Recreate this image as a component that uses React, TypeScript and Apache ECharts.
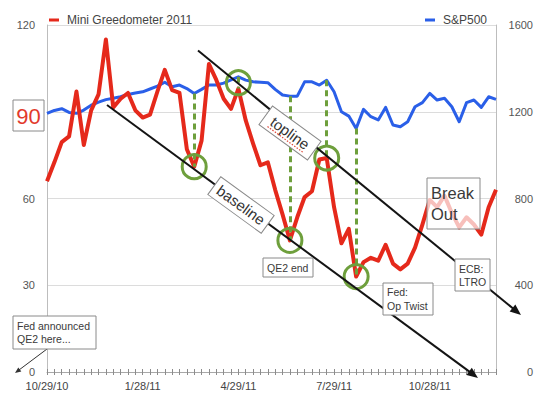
import React, { useEffect, useRef } from "react";
import * as echarts from "echarts";

const weeks = [
  "10/29/10", "11/5/10", "11/12/10", "11/19/10", "11/26/10", "12/3/10", "12/10/10", "12/17/10", "12/24/10", "12/31/10",
  "1/7/11", "1/14/11", "1/21/11", "1/28/11", "2/4/11", "2/11/11", "2/18/11", "2/25/11", "3/4/11", "3/11/11",
  "3/18/11", "3/25/11", "4/1/11", "4/8/11", "4/15/11", "4/22/11", "4/29/11", "5/6/11", "5/13/11", "5/20/11",
  "5/27/11", "6/3/11", "6/10/11", "6/17/11", "6/24/11", "7/1/11", "7/8/11", "7/15/11", "7/22/11", "7/29/11",
  "8/5/11", "8/12/11", "8/19/11", "8/26/11", "9/2/11", "9/9/11", "9/16/11", "9/23/11", "9/30/11", "10/7/11",
  "10/14/11", "10/21/11", "10/28/11", "11/4/11", "11/11/11", "11/18/11", "11/25/11", "12/2/11", "12/9/11", "12/16/11",
  "12/23/11", "12/30/11",
];

const greedometer = [
  66, 72.5, 79.5, 81.5, 97, 78.5, 90.5, 96, 115, 91.5,
  94.5, 96.5, 90.5, 88, 89, 97, 104.5, 97.5, 96.5, 77,
  71, 80, 106.5, 101, 94.5, 91, 98, 87, 79, 71.5,
  72.5, 63, 54.5, 45.5, 53.5, 60.5, 62.5, 73.5, 74, 57,
  44.5, 49.5, 33, 38, 39.5, 38.5, 44, 37.5, 35.5, 37.5,
  43, 51, 59.5, 57, 61, 55, 50, 53.5, 51, 47.5,
  57, 63,
];

const sp500 = [
  1192, 1206, 1214, 1197, 1193, 1208, 1230, 1244, 1256, 1262,
  1269, 1280, 1286, 1292, 1305, 1318, 1336, 1315, 1323, 1307,
  1284, 1303, 1323, 1323, 1332, 1347, 1361, 1346, 1338, 1336,
  1334, 1303, 1277, 1272, 1272, 1338, 1338, 1323, 1345, 1292,
  1200, 1180, 1123, 1211, 1177, 1162, 1220, 1139, 1131, 1154,
  1223, 1242, 1285, 1254, 1262, 1223, 1154, 1242, 1254, 1220,
  1269, 1257,
];

const leftAxis = { min: 0, max: 120, interval: 30 };
const rightAxis = { min: 0, max: 1600, interval: 400 };
const labelEveryWeeks = 13;
// weeks where the green dashed markers connect the S&P500 and the Greedometer
const turningWeeks = [20, 26, 33, 38, 42];
const circleAtMidpoint = [26];

const FONT = "'Liberation Sans', Arial, Helvetica, sans-serif";
const RED = "#e5291b";
const BLUE = "#2a5fe8";
const GREEN = "#6e9f3c";
const INK = "#141414";

function arrowLine(x1: number, y1: number, tx: number, ty: number, len: number, half: number, color: string, width: number, z: number) {
  const dx = tx - x1, dy = ty - y1;
  const d = Math.hypot(dx, dy);
  const ux = dx / d, uy = dy / d;
  const nx = -uy, ny = ux;
  const bx = tx - ux * len, by = ty - uy * len;
  return [
    { type: "line", z, silent: true, shape: { x1, y1, x2: bx + ux * 2, y2: by + uy * 2 }, style: { stroke: color, lineWidth: width } },
    { type: "polygon", z, silent: true, shape: { points: [[tx, ty], [bx + nx * half, by + ny * half], [bx - nx * half, by - ny * half]] }, style: { fill: color } },
  ];
}

function textStyle(text: string, x: number, y: number, size: number, fill: string, align: string, vAlign: string, lineHeight?: number) {
  return {
    text, x, y, fill,
    font: `${size}px ${FONT}`,
    fontSize: size,
    fontFamily: FONT,
    align, verticalAlign: vAlign,
    textAlign: align, textVerticalAlign: vAlign,
    lineHeight: lineHeight || Math.round(size * 1.2),
  };
}

function noteBox(x: number, y: number, w: number, h: number, text: string, size: number, lineHeight: number, fillOpacity = 1, z = 30) {
  return {
    type: "group", x, y, z, silent: true,
    children: [
      { type: "rect", z, shape: { x: 0, y: 0, width: w, height: h }, style: { fill: `rgba(255,255,255,${fillOpacity})`, stroke: "#8a8a8a", lineWidth: 1 } },
      { type: "text", z: z + 1, style: textStyle(text, 4, h / 2, size, "#3a3a3a", "left", "middle", lineHeight) },
    ],
  };
}

function rotatedBox(cx: number, cy: number, w: number, h: number, deg: number, text: string, size: number, extra: any[] = [], z = 30) {
  return {
    type: "group", x: cx, y: cy, rotation: (-deg * Math.PI) / 180, z, silent: true,
    children: [
      { type: "rect", z, shape: { x: -w / 2, y: -h / 2, width: w, height: h }, style: { fill: "#ffffff", stroke: "#8a8a8a", lineWidth: 1 } },
      { type: "text", z: z + 1, style: textStyle(text, 0, 0, size, "#333333", "center", "middle") },
      ...extra,
    ],
  };
}

export default function App() {
  const ref = useRef<HTMLDivElement>(null);

  useEffect(() => {
    if (!ref.current) return;
    const chart = echarts.init(ref.current, undefined, { renderer: "svg" });
    const scale = leftAxis.max / rightAxis.max;

    const dashed = turningWeeks.map((i) => [
      { coord: [weeks[i], sp500[i] * scale] },
      { coord: [weeks[i], greedometer[i]] },
    ]);
    const circles = turningWeeks.map((i) => {
      const v = circleAtMidpoint.includes(i) ? (greedometer[i] + sp500[i] * scale) / 2 : greedometer[i];
      return { coord: [weeks[i], v] };
    });

    const axisText = { fontFamily: FONT, fontSize: 11, color: "#555" };

    const graphic: any[] = [
      // trend channel lines
      ...arrowLine(107, 105, 478, 378, 11, 4.5, INK, 2, 20),
      ...arrowLine(198, 50.5, 521, 315, 11, 4.5, INK, 2, 20),
      // Fed announced arrow
      ...arrowLine(47, 349, 15, 373, 6, 2.5, "#333", 1, 20),
      // boxed 90 label
      {
        type: "group", x: 13, y: 100, z: 30, silent: true,
        children: [
          { type: "rect", z: 30, shape: { x: 0, y: 0, width: 31, height: 31 }, style: { fill: "#fff", stroke: "#8a8a8a", lineWidth: 1 } },
          { type: "text", z: 31, style: textStyle("90", 15.5, 16, 22, "#e23a2c", "center", "middle") },
        ],
      },
      rotatedBox(290, 133, 60, 23, 36, "topline", 15, [
        { type: "line", z: 32, shape: { x1: -22, y1: 8, x2: 22, y2: 8 }, style: { stroke: "#e0473a", lineWidth: 1.2, lineDash: [1.5, 1.5] } },
      ]),
      rotatedBox(241, 205, 66, 22, 36, "baseline", 15),
      noteBox(263, 258, 50, 19, "QE2 end", 10.5, 13),
      noteBox(383, 283, 50, 32, "Fed:\nOp Twist", 10.5, 14),
      noteBox(455, 259, 35, 32, "ECB:\nLTRO", 10.5, 13),
      noteBox(13, 316, 83, 33, "Fed announced\nQE2 here...", 10.5, 13),
      noteBox(427, 178, 53, 51, "Break\nOut", 16.5, 21.5, 0.7),
    ];

    chart.setOption({
      animation: false,
      backgroundColor: "#ffffff",
      textStyle: { fontFamily: FONT },
      grid: { left: 47, right: 44, top: 25, bottom: 25, containLabel: false, outerBoundsMode: "none" },
      legend: [
        {
          data: ["Mini Greedometer 2011"], left: 44, top: 9, icon: "rect", itemWidth: 10, itemHeight: 3,
          textStyle: { fontFamily: FONT, fontSize: 12, color: "#444", padding: [0, 0, 0, 3] }, selectedMode: false,
        },
        {
          data: ["S&P500"], left: 420, top: 9, icon: "rect", itemWidth: 10, itemHeight: 3,
          textStyle: { fontFamily: FONT, fontSize: 12, color: "#444", padding: [0, 0, 0, 3] }, selectedMode: false,
        },
      ],
      xAxis: [
        {
          type: "category", data: weeks, boundaryGap: false,
          axisLine: { lineStyle: { color: "#a8a8a8", width: 1 } },
          axisTick: { interval: 0, length: 3, lineStyle: { color: "#8c8c8c" } },
          axisLabel: { interval: (i: number) => i % labelEveryWeeks === 0, margin: 8, ...axisText, color: "#444" },
          splitLine: { show: false },
        },
        {
          type: "category", data: weeks, boundaryGap: false, position: "bottom",
          axisLine: { show: false },
          axisTick: { interval: 0, inside: true, length: 3, lineStyle: { color: "#8c8c8c" } },
          axisLabel: { show: false },
          splitLine: { show: false },
        },
      ],
      yAxis: [
        {
          type: "value", ...leftAxis, position: "left",
          axisLine: { show: true, lineStyle: { color: "#bdbdbd" } },
          axisTick: { show: false },
          axisLabel: { margin: 12, ...axisText, formatter: (v: number) => (v === 90 ? "" : String(v)) },
          splitLine: { show: true, lineStyle: { color: "#dcdcdc", width: 1 } },
        },
        {
          type: "value", ...rightAxis, position: "right",
          axisLine: { show: true, lineStyle: { color: "#bdbdbd" } },
          axisTick: { show: false },
          axisLabel: { margin: 37, align: "right", ...axisText, formatter: (v: number) => String(v) },
          splitLine: { show: false },
        },
      ],
      series: [
        {
          name: "S&P500", type: "line", data: sp500, yAxisIndex: 1, xAxisIndex: 0,
          showSymbol: false, symbol: "none", color: BLUE,
          lineStyle: { color: BLUE, width: 3, join: "round" }, z: 3,
        },
        {
          name: "Mini Greedometer 2011", type: "line", data: greedometer, yAxisIndex: 0, xAxisIndex: 0,
          showSymbol: false, symbol: "none", color: RED,
          lineStyle: { color: RED, width: 4, join: "round" }, z: 4,
          markLine: {
            silent: true, symbol: ["none", "none"], label: { show: false },
            lineStyle: { color: GREEN, width: 3, type: [6, 4] },
            data: dashed,
          },
          markPoint: {
            silent: true, symbol: "circle", symbolSize: 24, label: { show: false },
            itemStyle: { color: "rgba(0,0,0,0)", borderColor: GREEN, borderWidth: 3 },
            data: circles,
          },
        },
      ],
      graphic,
    });

    return () => chart.dispose();
  }, []);

  return <div ref={ref} style={{ position: "fixed", left: 0, top: 0, width: 540, height: 397, background: "#fff" }} />;
}
